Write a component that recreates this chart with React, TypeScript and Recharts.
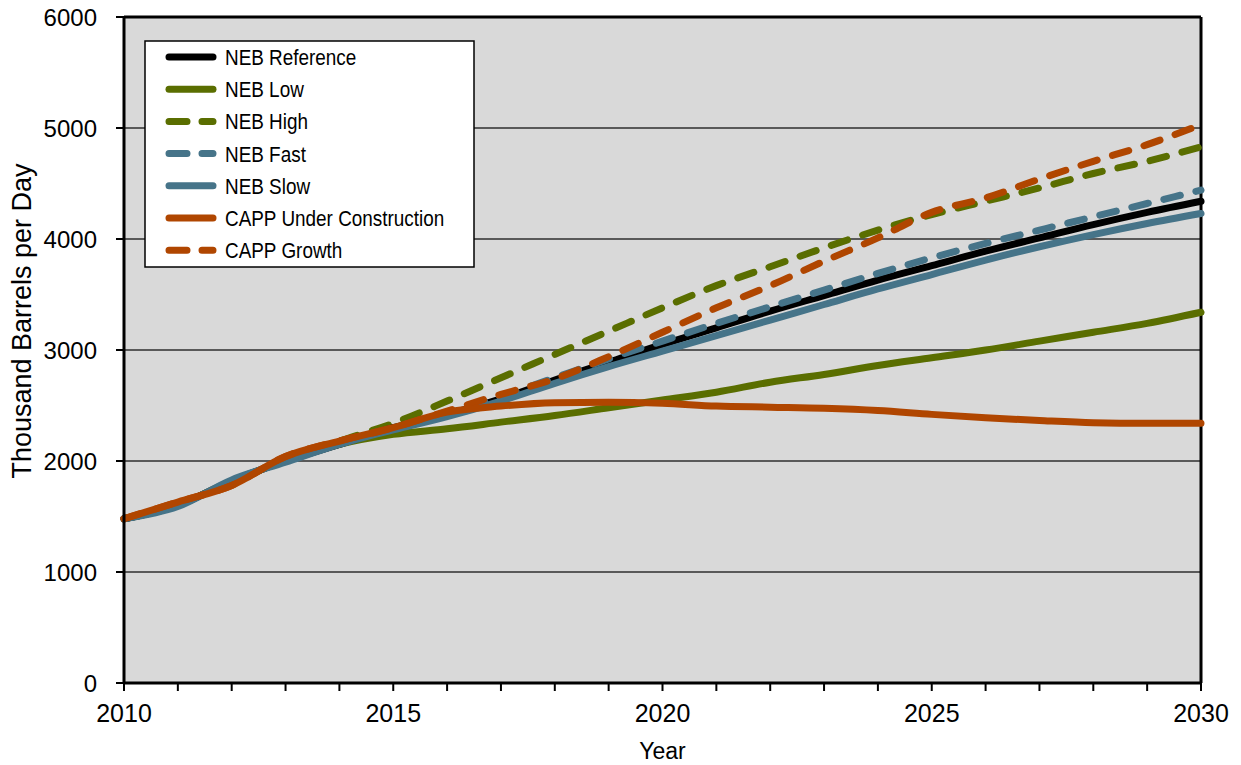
import React from "react";
import {
  LineChart,
  Line,
  XAxis,
  YAxis,
  CartesianGrid,
  ReferenceLine,
  Legend,
} from "recharts";

const years = [
  2010, 2011, 2012, 2013, 2014, 2015, 2016, 2017, 2018, 2019, 2020, 2021, 2022,
  2023, 2024, 2025, 2026, 2027, 2028, 2029, 2030,
];
const nebReference = [1480, 1600, 1820, 2000, 2150, 2300, 2420, 2560, 2730, 2890, 3050, 3200, 3350, 3490, 3630, 3760, 3890, 4010, 4130, 4240, 4340];
const nebLow = [1480, 1600, 1820, 2000, 2150, 2240, 2290, 2350, 2410, 2480, 2550, 2620, 2710, 2780, 2860, 2930, 3000, 3080, 3160, 3240, 3340];
const nebHigh = [1480, 1610, 1810, 2010, 2180, 2340, 2540, 2750, 2960, 3170, 3380, 3580, 3750, 3920, 4080, 4220, 4340, 4460, 4590, 4700, 4830];
const nebFast = [1480, 1600, 1820, 2000, 2150, 2300, 2430, 2580, 2750, 2920, 3080, 3240, 3390, 3540, 3690, 3830, 3960, 4080, 4200, 4320, 4440];
const nebSlow = [1480, 1590, 1830, 1990, 2150, 2280, 2400, 2540, 2700, 2850, 2990, 3130, 3270, 3410, 3550, 3680, 3810, 3930, 4040, 4140, 4230];
const cappUnderConstruction = [1480, 1630, 1780, 2040, 2180, 2300, 2440, 2495, 2525, 2530, 2520, 2495, 2485, 2475, 2455, 2420, 2390, 2365, 2345, 2340, 2340];
const cappGrowth = [1480, 1630, 1780, 2040, 2180, 2300, 2450, 2600, 2740, 2940, 3160, 3380, 3580, 3800, 4010, 4240, 4370, 4540, 4700, 4850, 5030];

const yTicks = [0, 1000, 2000, 3000, 4000, 5000, 6000];

const BLACK = "#000000";
const GREEN = "#5a6e00";
const BLUE = "#467489";
const ORANGE = "#b04600";
const DASH = "17 16";

const series = [
  { key: "high", name: "NEB High", color: GREEN, dashed: true },
  { key: "low", name: "NEB Low", color: GREEN, dashed: false },
  { key: "reference", name: "NEB Reference", color: BLACK, dashed: false },
  { key: "slow", name: "NEB Slow", color: BLUE, dashed: false },
  { key: "fast", name: "NEB Fast", color: BLUE, dashed: true },
  { key: "growth", name: "CAPP Growth", color: ORANGE, dashed: true },
  { key: "uc", name: "CAPP Under Construction", color: ORANGE, dashed: false },
];

const legendOrder = ["reference", "low", "high", "fast", "slow", "uc", "growth"];

const data = years.map((year, i) => ({
  year,
  reference: nebReference[i],
  low: nebLow[i],
  high: nebHigh[i],
  fast: nebFast[i],
  slow: nebSlow[i],
  uc: cappUnderConstruction[i],
  growth: cappGrowth[i],
}));

const FONT = "'Liberation Sans', Arial, sans-serif";

function LegendBox() {
  const items = legendOrder.map((k) => series.find((s) => s.key === k)!);
  return (
    <svg width={332} height={229} style={{ display: "block" }}>
      <rect x={1} y={1} width={329} height={226} fill="#ffffff" stroke="#000" strokeWidth={1.5} />
      {items.map((s, i) => {
        const cy = 17 + i * 32.2;
        return (
          <g key={s.key}>
            <line
              x1={25}
              x2={69}
              y1={cy}
              y2={cy}
              stroke={s.color}
              strokeWidth={7}
              strokeLinecap="round"
              strokeDasharray={s.dashed ? "18 15" : undefined}
            />
            <g transform={`translate(81 ${cy}) scale(0.86 1)`}>
              <text x={0} y={0} dy="0.36em" fontSize={22} fontFamily={FONT} fill="#000">
                {s.name}
              </text>
            </g>
          </g>
        );
      })}
    </svg>
  );
}

function YTitle(props: any) {
  const vb = props.viewBox || {};
  const cx = vb.x - 2;
  const cy = vb.y + vb.height / 2 - 29;
  return (
    <text
      x={cx}
      y={cy}
      transform={`rotate(-90 ${cx} ${cy})`}
      textAnchor="middle"
      dominantBaseline="central"
      fontSize={27}
      fontFamily={FONT}
      fill="#000"
    >
      Thousand Barrels per Day
    </text>
  );
}

export default function App() {
  return (
    <div style={{ width: 1233, height: 757, fontFamily: FONT }}>
      <LineChart
        width={1233}
        height={757}
        data={data}
        margin={{ top: 9, right: 40, left: 16, bottom: 22 }}
      >
        <CartesianGrid
          vertical={false}
          fill="#d9d9d9"
          stroke="#595959"
          strokeWidth={2}
          horizontalValues={yTicks}
        />
        <XAxis
          dataKey="year"
          type="number"
          domain={[2010, 2030]}
          ticks={years}
          interval={0}
          tickFormatter={(v: number) => (v % 5 === 0 ? String(v) : "")}
          tick={{ fill: "#000", fontSize: 25, fontFamily: FONT }}
          tickSize={8}
          tickMargin={13}
          stroke="#000"
          axisLine={{ stroke: "#000", strokeWidth: 3 }}
          tickLine={{ stroke: "#000", strokeWidth: 2 }}
          height={60}
          label={{
            value: "Year",
            position: "bottom",
            offset: 0,
            fontSize: 23,
            fill: "#000",
            fontFamily: FONT,
          }}
        />
        <YAxis
          type="number"
          domain={[0, 6000]}
          ticks={yTicks}
          interval={0}
          tick={{ fill: "#000", fontSize: 24, fontFamily: FONT }}
          tickSize={8}
          tickMargin={19}
          stroke="#000"
          axisLine={{ stroke: "#000", strokeWidth: 3 }}
          tickLine={{ stroke: "#000", strokeWidth: 2 }}
          width={100}
          label={{ content: <YTitle /> }}
        />
        <ReferenceLine y={6000} stroke="#000" strokeWidth={3} />
        <ReferenceLine x={2030} stroke="#000" strokeWidth={3} />
        {series.map((s) => (
          <Line
            key={s.key}
            dataKey={s.key}
            name={s.name}
            type="monotone"
            stroke={s.color}
            strokeWidth={7}
            strokeDasharray={s.dashed ? DASH : undefined}
            strokeLinecap="round"
            dot={false}
            activeDot={false}
            isAnimationActive={false}
          />
        ))}
        <Legend
          layout="vertical"
          align="center"
          verticalAlign="middle"
          content={() => <LegendBox />}
          wrapperStyle={{ position: "absolute", left: 136, top: 32, width: 332, height: 229 }}
        />
      </LineChart>
    </div>
  );
}
